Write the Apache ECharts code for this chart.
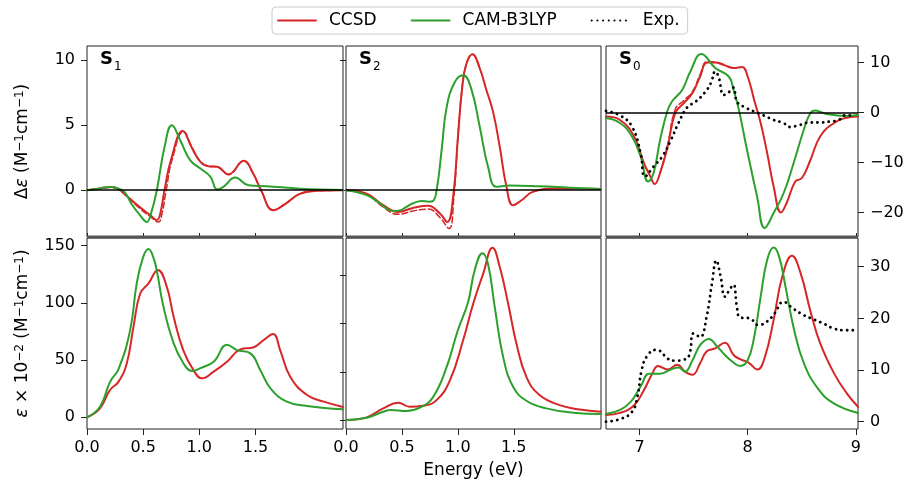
<!DOCTYPE html>
<html>
<head>
<meta charset="utf-8">
<script src="https://cdn.jsdelivr.net/npm/echarts@6/dist/echarts.min.js"></script>
<style>
  html, body { margin: 0; padding: 0; background: #fff; }
  #chart { width: 910px; height: 482px; }
</style>
</head>
<body>
<div id="chart"></div>
<script>
// Spectra: [energy (eV), value]

// S1 - circular dichroism (delta eps)
const s1CdCcsd = [[0,0],[0.1,0.12],[0.22,0.25],[0.28,0.1],[0.35,-0.4],[0.47,-1.3],[0.56,-1.9],[0.622,-2.3],[0.655,-1.7],[0.69,0],[0.75,2.4],[0.854,4.56],[0.93,3.33],[1.01,2.18],[1.08,1.85],[1.16,1.8],[1.26,1.23],[1.396,2.26],[1.48,1.28],[1.55,0],[1.66,-1.54],[1.77,-1.03],[1.89,-0.3],[2.03,-0.05],[2.28,0]];
const s1CdCcsdAlt = [[0,0],[0.1,0.1],[0.22,0.22],[0.28,0.05],[0.35,-0.45],[0.47,-1.4],[0.56,-2.0],[0.635,-2.45],[0.67,-1.7],[0.705,0],[0.76,2.4],[0.86,4.5],[0.93,3.4],[1.01,2.2],[1.08,1.85],[1.16,1.8],[1.26,1.2],[1.396,2.25],[1.48,1.28],[1.55,0],[1.66,-1.5],[1.77,-1.0],[1.89,-0.3],[2.03,-0.05],[2.28,0]];
const s1CdCam = [[0,0],[0.1,0.12],[0.205,0.25],[0.27,0.15],[0.33,-0.1],[0.4,-1.1],[0.47,-1.9],[0.533,-2.44],[0.57,-1.8],[0.622,0],[0.69,3.3],[0.756,5.0],[0.83,3.85],[0.92,2.3],[1.01,1.67],[1.1,1.03],[1.16,0.05],[1.22,0.3],[1.32,0.97],[1.44,0.38],[1.6,0.31],[1.9,0.12],[2.28,0.02]];

// S2 - circular dichroism
const s2CdCcsd = [[0,0],[0.185,-0.26],[0.333,-1.15],[0.467,-1.67],[0.6,-1.36],[0.735,-1.2],[0.84,-1.79],[0.905,-2.44],[0.958,-0.5],[1.0,4.0],[1.04,8.0],[1.077,9.74],[1.13,10.46],[1.196,9.38],[1.256,7.69],[1.315,6.03],[1.375,3.33],[1.435,0.26],[1.494,-1.15],[1.57,-0.77],[1.67,-0.13],[1.88,0.13],[2.28,0.1]];
const s2CdCcsdAlt = [[0,0],[0.185,-0.3],[0.333,-1.3],[0.467,-1.85],[0.6,-1.6],[0.735,-1.45],[0.84,-2.1],[0.92,-2.95],[0.965,-0.5],[1.0,4.0],[1.04,8.0],[1.077,9.74],[1.13,10.46],[1.196,9.38]];
const s2CdCam = [[0,0],[0.185,-0.38],[0.3,-1.0],[0.363,-1.41],[0.42,-1.59],[0.48,-1.55],[0.54,-1.28],[0.6,-1.0],[0.675,-0.82],[0.74,-0.88],[0.775,-0.85],[0.81,0],[0.855,3.08],[0.9,6.4],[0.973,8.33],[1.048,8.85],[1.12,7.8],[1.196,4.87],[1.27,1.8],[1.345,0.26],[1.464,0.36],[1.73,0.3],[2.0,0.2],[2.28,0.1]];

// S0 - circular dichroism
const s0CdCcsd = [[6.69,-0.8],[6.82,-1.5],[6.95,-4.8],[7.04,-10.1],[7.1,-12.8],[7.14,-14.3],[7.19,-12.1],[7.26,-6.8],[7.33,-0.1],[7.41,1.9],[7.49,3.9],[7.56,7.2],[7.625,10.0],[7.7,10.0],[7.78,9.5],[7.87,8.9],[7.948,9.1],[8.0,7.2],[8.06,2.5],[8.12,-2.1],[8.18,-8.1],[8.24,-14.8],[8.308,-20.0],[8.36,-18.1],[8.44,-13.8],[8.502,-13.1],[8.58,-9.5],[8.67,-4.8],[8.8,-2.1],[8.95,-0.9],[9.02,-0.8]];
const s0CdCcsdAlt = [[7.19,-12.1],[7.26,-6.5],[7.33,0.6],[7.41,2.4],[7.49,4.2],[7.56,7.6],[7.625,10.2],[7.7,10.1],[7.78,9.6]];
const s0CdCam = [[6.69,-1.1],[6.82,-2.1],[6.93,-4.8],[7.01,-8.8],[7.08,-13.8],[7.13,-12.1],[7.19,-5.5],[7.256,0.2],[7.3,2.2],[7.394,4.5],[7.47,8.2],[7.572,11.7],[7.7,8.9],[7.825,7.2],[7.87,4.5],[7.917,0.7],[7.994,-7.5],[8.087,-16.8],[8.157,-23.1],[8.24,-20.1],[8.333,-16.1],[8.425,-10.1],[8.518,-3.5],[8.58,-0.1],[8.625,0.4],[8.73,-0.3],[8.91,-0.7],[9.02,-0.5]];
const s0CdExp = [[6.69,0.3],[6.82,-0.6],[6.93,-2.8],[7.01,-8.1],[7.05,-12.8],[7.13,-10.8],[7.21,-8.8],[7.29,-5.5],[7.36,-2.1],[7.44,1.0],[7.52,2.2],[7.6,3.9],[7.66,5.9],[7.7,8.2],[7.73,7.2],[7.78,3.5],[7.84,4.3],[7.87,5.0],[7.9,2.2],[7.96,1.2],[8.06,0.2],[8.15,-0.6],[8.24,-1.5],[8.33,-2.1],[8.39,-2.9],[8.48,-2.5],[8.57,-2.0],[8.67,-2.0],[8.76,-1.8],[8.84,-1.5],[8.91,-0.5],[8.97,-0.7]];

// S1 - absorption (eps x 1e-2)
const s1AbsCcsd = [[0,0],[0.116,7.9],[0.205,23.9],[0.28,31],[0.354,47],[0.414,79],[0.473,108],[0.548,117],[0.631,128.8],[0.711,114],[0.771,88],[0.857,58.8],[0.95,41],[1.024,34.1],[1.128,39.9],[1.247,48.6],[1.366,59.4],[1.485,61.2],[1.574,67.6],[1.658,72.8],[1.72,58.8],[1.81,35.5],[1.96,19.5],[2.11,13.7],[2.28,9.0]];
const s1AbsCam = [[0,0],[0.116,9.3],[0.205,31],[0.28,42],[0.384,76],[0.443,117],[0.5,140],[0.548,147],[0.59,140],[0.622,128],[0.68,97],[0.77,65],[0.86,47],[0.935,40.5],[1.01,43],[1.128,48.6],[1.247,63.5],[1.336,58.7],[1.455,55.9],[1.545,41],[1.634,25.3],[1.78,13.7],[1.96,9.9],[2.28,7.0]];

// S2 - absorption
const s2AbsCcsd = [[0,0],[0.185,2.8],[0.333,12.1],[0.467,17.9],[0.57,13.8],[0.69,14.8],[0.81,20.7],[0.93,41.4],[1.047,82.8],[1.137,120.7],[1.226,151.8],[1.31,178.8],[1.375,158.8],[1.45,120.7],[1.524,79.3],[1.613,44.8],[1.73,25.9],[1.91,15.5],[2.09,11],[2.28,8.6]];
const s2AbsCam = [[0,0],[0.185,2.4],[0.333,8.6],[0.4,10.4],[0.54,9.3],[0.66,12.8],[0.78,24.1],[0.9,55.2],[1.0,93.2],[1.092,122.5],[1.15,155.3],[1.22,173.2],[1.27,162],[1.33,117.3],[1.405,65.5],[1.494,34.5],[1.613,20],[1.79,12.1],[2.03,7.6],[2.28,6.2]];

// S0 - absorption
const s0AbsCcsd = [[6.69,1.3],[6.82,1.7],[6.95,3.2],[7.04,6.1],[7.12,9.4],[7.17,10.8],[7.26,10.1],[7.35,11.0],[7.42,9.7],[7.49,9.1],[7.56,11.3],[7.62,13.6],[7.7,14.2],[7.79,15.3],[7.87,12.9],[7.93,12.1],[8.01,11.4],[8.09,10.1],[8.16,12.6],[8.24,19.7],[8.32,28.1],[8.41,32.1],[8.49,28.7],[8.58,21.4],[8.67,15.2],[8.8,9.3],[8.92,5.4],[9.02,2.9]];
const s0AbsCam = [[6.69,1.5],[6.82,2.3],[6.92,3.9],[7.01,6.8],[7.09,9.3],[7.19,9.3],[7.29,10.1],[7.36,10.5],[7.42,9.7],[7.49,11.9],[7.56,14.8],[7.64,16.0],[7.72,14.5],[7.79,12.9],[7.86,11.6],[7.93,10.8],[8.0,11.9],[8.06,16.4],[8.12,24.2],[8.18,31.3],[8.24,33.7],[8.29,32],[8.35,26.1],[8.43,17.7],[8.52,11.3],[8.65,6.4],[8.8,3.5],[9.02,1.7]];
const s0AbsExp = [[6.69,0],[6.82,0.5],[6.93,1.9],[6.98,4.8],[7.02,10.0],[7.07,12.7],[7.15,13.9],[7.19,13.7],[7.26,12.2],[7.33,11.8],[7.41,12.0],[7.46,12.9],[7.5,17.1],[7.56,16.4],[7.62,20.3],[7.67,26.8],[7.71,31.2],[7.75,28.1],[7.79,24.2],[7.84,25.8],[7.87,26.5],[7.9,22.3],[7.93,20.2],[8.02,20.0],[8.1,18.7],[8.18,19.4],[8.25,21.0],[8.33,23.2],[8.42,21.9],[8.52,20.6],[8.61,19.8],[8.7,19.0],[8.8,18.0],[8.89,17.7],[8.98,17.7]];

// tick values
const lowTicks = [0, 0.5, 1.0, 1.5];
const highTicks = [7, 8, 9];
const cdTicks = [0, 5, 10];
const cdS0Ticks = [-20, -10, 0, 10];
const absTicks = [0, 50, 100, 150];
const absS0Ticks = [0, 10, 20, 30];
const panelNames = [['S', '1'], ['S', '2'], ['S', '0']];

const RED = '#d62728';
const GREEN = '#2ca02c';
const INK = '#222';

const colLeft = [87, 346, 606];
const colWidth = [256, 255, 252];
const rowTop = [46, 238];
const rowHeight = [191, 191];

const grids = [];
for (let r = 0; r < 2; r++) {
  for (let c = 0; c < 3; c++) {
    grids.push({
      left: colLeft[c], top: rowTop[r], width: colWidth[c], height: rowHeight[r],
      show: true, borderColor: INK, borderWidth: 1, containLabel: false
    });
  }
}

function minusFmt(v) {
  return v < 0 ? '\u2212' + Math.abs(v) : String(v);
}

function xAxis(gi, min, max, ticks, bottom, fmt) {
  return {
    type: 'value', gridIndex: gi, min: min, max: max,
    axisLine: { show: false, onZero: false },
    splitLine: { show: false },
    axisTick: { show: true, inside: !bottom, length: bottom ? 6 : 4, customValues: ticks, lineStyle: { color: INK } },
    axisLabel: { show: bottom, customValues: ticks, formatter: fmt, fontSize: 16, color: '#000', margin: 11 }
  };
}

function yAxis(gi, min, max, ticks, pos, labels) {
  return {
    type: 'value', gridIndex: gi, min: min, max: max, position: pos,
    axisLine: { show: false, onZero: false },
    splitLine: { show: false },
    axisTick: { show: true, length: 6, customValues: ticks, lineStyle: { color: INK } },
    axisLabel: { show: labels, customValues: ticks, formatter: minusFmt, fontSize: 16, color: '#000', margin: 12 }
  };
}

const fmt1 = v => v.toFixed(1);
const xAxes = [
  xAxis(0, 0, 2.28, lowTicks, false, fmt1),
  xAxis(1, 0, 2.28, lowTicks, false, fmt1),
  xAxis(2, 6.69, 9.02, highTicks, false, String),
  xAxis(3, 0, 2.28, lowTicks, true, fmt1),
  xAxis(4, 0, 2.28, lowTicks, true, fmt1),
  xAxis(5, 6.69, 9.02, highTicks, true, String)
];
xAxes[4].name = 'Energy (eV)';
xAxes[4].nameLocation = 'middle';
xAxes[4].nameGap = 33;
xAxes[4].nameTextStyle = { fontSize: 17, color: '#000' };

const nameRich = {
  n: { fontSize: 17, color: '#000' },
  i: { fontSize: 17, color: '#000', fontStyle: 'italic' },
  sup: { fontSize: 12, color: '#000', verticalAlign: 'top' }
};

const yAxes = [
  yAxis(0, -3.6, 11.1, cdTicks, 'left', true),
  yAxis(1, -3.6, 11.1, cdTicks, 'left', false),
  yAxis(2, -24.9, 13.3, cdS0Ticks, 'right', true),
  yAxis(3, -10.2, 156.7, absTicks, 'left', true),
  yAxis(4, -9.3, 189, absTicks, 'left', false),
  yAxis(5, -1.41, 35.55, absS0Ticks, 'right', true)
];
Object.assign(yAxes[0], {
  name: '{n|\u0394}{i|\u03b5}{n| (M}{sup|\u22121}{n|cm}{sup|\u22121}{n|)}',
  nameLocation: 'middle', nameRotate: 90, nameGap: 56,
  nameTextStyle: { rich: nameRich }
});
Object.assign(yAxes[3], {
  name: '{i|\u03b5}{n| \u00d7 10}{sup|\u22122}{n| (M}{sup|\u22121}{n|cm}{sup|\u22121}{n|)}',
  nameLocation: 'middle', nameRotate: 90, nameGap: 56,
  nameTextStyle: { rich: nameRich }
});

function line(name, data, gi, color, type, width) {
  return {
    name: name, type: 'line', data: data,
    xAxisIndex: gi, yAxisIndex: gi,
    symbol: 'none', smooth: 0.45,
    lineStyle: { color: color, width: width, type: type, cap: 'round', join: 'round' },
    itemStyle: { color: color },
    silent: true, animation: false
  };
}

const zeroLine = {
  silent: true, symbol: ['none', 'none'],
  label: { show: false },
  lineStyle: { color: '#000', type: 'solid', width: 1.5 },
  data: [{ yAxis: 0 }]
};

const DOT = [0.1, 5.6];
const series = [
  line('CCSD', s1CdCcsd, 0, RED, 'solid', 2),
  line('CCSD dashed', s1CdCcsdAlt, 0, RED, 'dashed', 1.5),
  line('CAM-B3LYP', s1CdCam, 0, GREEN, 'solid', 2),
  line('CCSD', s2CdCcsd, 1, RED, 'solid', 2),
  line('CCSD dashed', s2CdCcsdAlt, 1, RED, 'dashed', 1.5),
  line('CAM-B3LYP', s2CdCam, 1, GREEN, 'solid', 2),
  line('CCSD', s0CdCcsd, 2, RED, 'solid', 2),
  line('CCSD dashed', s0CdCcsdAlt, 2, RED, 'dashed', 1.5),
  line('CAM-B3LYP', s0CdCam, 2, GREEN, 'solid', 2),
  line('Exp.', s0CdExp, 2, '#000', DOT, 2.8),
  line('CCSD', s1AbsCcsd, 3, RED, 'solid', 2),
  line('CAM-B3LYP', s1AbsCam, 3, GREEN, 'solid', 2),
  line('CCSD', s2AbsCcsd, 4, RED, 'solid', 2),
  line('CAM-B3LYP', s2AbsCam, 4, GREEN, 'solid', 2),
  line('CCSD', s0AbsCcsd, 5, RED, 'solid', 2),
  line('CAM-B3LYP', s0AbsCam, 5, GREEN, 'solid', 2),
  line('Exp.', s0AbsExp, 5, '#000', DOT, 2.8)
];
// horizontal zero line in the CD panels
[0, 3, 6].forEach(i => { series[i].markLine = zeroLine; });

const graphic = [];
for (let c = 0; c < 3; c++) {
  graphic.push({
    type: 'text', left: colLeft[c] + 13, top: 50, z: 10,
    style: { text: panelNames[c][0], fontSize: 18, fontWeight: 'bold', fill: '#000', fontFamily: 'DejaVu Sans' }
  });
  graphic.push({
    type: 'text', left: colLeft[c] + 27, top: 61, z: 10,
    style: { text: panelNames[c][1], fontSize: 12, fill: '#000', fontFamily: 'DejaVu Sans' }
  });
  // heavy separator between the CD and absorption rows
  graphic.push({
    type: 'rect', z: 10,
    shape: { x: colLeft[c], y: 235.5, width: colWidth[c], height: 3 },
    style: { fill: '#555' }
  });
}

const chart = echarts.init(document.getElementById('chart'));
chart.setOption({
  animation: false,
  backgroundColor: '#fff',
  textStyle: { fontFamily: 'DejaVu Sans' },
  legend: {
    data: ['CCSD', 'CAM-B3LYP', 'Exp.'],
    left: 272, top: 7,
    itemWidth: 38, itemHeight: 12, itemGap: 34,
    padding: [5, 8, 5, 5],
    borderColor: '#ccc', borderWidth: 1, borderRadius: 4,
    itemStyle: { color: 'transparent', borderWidth: 0 },
    textStyle: { fontSize: 17, color: '#000', padding: [0, 0, 0, 8] }
  },
  grid: grids,
  xAxis: xAxes,
  yAxis: yAxes,
  series: series,
  graphic: graphic
});
</script>
</body>
</html>
